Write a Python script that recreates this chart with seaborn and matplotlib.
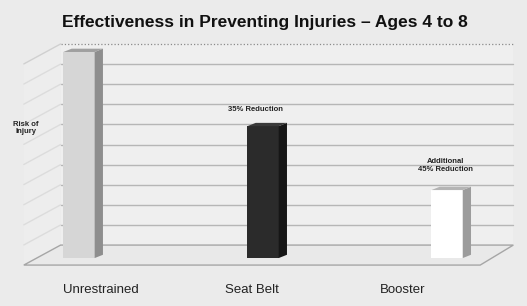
import numpy as np
import pandas as pd
import matplotlib
matplotlib.use("Agg")
import matplotlib.pyplot as plt
from matplotlib.patches import Polygon, Rectangle
import seaborn as sns

# datos del grafico
categories = ["Unrestrained", "Seat Belt", "Booster"]
risk = [100, 64, 33]
notes = ["35% Reduction", "Additional\n45% Reduction"]
front_colors = ["#d6d6d6", "#2b2b2b", "#ffffff"]
side_colors = ["#8e8e8e", "#161616", "#9c9c9c"]
top_colors = ["#a0a0a0", "#3a3a3a", "#b4b4b4"]

df = pd.DataFrame({"grupo": categories, "riesgo": risk})

sns.set_style("white")
plt.rcParams["font.family"] = ["Liberation Sans", "DejaVu Sans"]

bg = "#ebebeb"
fig = plt.figure(figsize=(5.27, 3.06), dpi=100, facecolor=bg)
ax = fig.add_axes([0.019, 0.1176, 0.968, 0.7516])
ax.set_facecolor(bg)

# escenario 3D: pared del fondo, pared izquierda y suelo
y_front, y_back, y_top = -3.4, 6.3, 103.9
x_fl, x_fr, x_bl, x_br = -0.30, 2.18, -0.10, 2.36
dy = y_back - y_front
ax.add_patch(Polygon([(x_bl, y_back), (x_br, y_back), (x_br, y_top), (x_bl, y_top)],
                     closed=True, facecolor="#efefef", edgecolor="none", zorder=0))
ax.add_patch(Polygon([(x_fl, y_front), (x_bl, y_back), (x_bl, y_top), (x_fl, y_top - dy)],
                     closed=True, facecolor="#ededed", edgecolor="none", zorder=0))
grid_vals = np.linspace(y_back, y_top, 11)
for g in grid_vals[1:-1]:
    ax.plot([x_bl, x_br], [g, g], color="#b6b6b6", lw=1.0, zorder=1)
    ax.plot([x_fl, x_bl], [g - dy, g], color="#dcdcdc", lw=1.0, zorder=1)
ax.plot([x_bl, x_br], [y_top, y_top], color="#8a8a8a", lw=0.9, ls=":", zorder=1)
ax.plot([x_fl, x_bl], [y_top - dy, y_top], color="#d0d0d0", lw=1.0, zorder=1)
ax.add_patch(Polygon([(x_fl, y_front), (x_fr, y_front), (x_br, y_back), (x_bl, y_back)],
                     closed=True, facecolor="#e9e9e9", edgecolor="#a6a6a6", lw=1.0, zorder=1))

# barras frontales con seaborn
sns.barplot(data=df, x="grupo", y="riesgo", hue="grupo", palette=front_colors,
            width=0.17, legend=False, ax=ax, saturation=1, zorder=3,
            edgecolor="none")

# caras laterales y superiores
ddx, ddy = 0.045, 1.6
bars = [p for p in ax.patches if isinstance(p, Rectangle) and p.get_height() > 0]
bars = sorted(bars, key=lambda p: p.get_x())
for i, b in enumerate(bars):
    x0, w, h = b.get_x(), b.get_width(), b.get_height()
    x1 = x0 + w
    ax.add_patch(Polygon([(x1, 0), (x1 + ddx, ddy), (x1 + ddx, h + ddy), (x1, h)],
                         closed=True, facecolor=side_colors[i], edgecolor="none", zorder=3))
    ax.add_patch(Polygon([(x0, h), (x1, h), (x1 + ddx, h + ddy), (x0 + ddx, h + ddy)],
                         closed=True, facecolor=top_colors[i], edgecolor="none", zorder=3))

# anotaciones
ax.text(-0.29, 63, "Risk of\nInjury", ha="center", va="center", fontsize=5.5,
        fontweight="bold", color="#222222", linespacing=1.1)
ax.text(1.0 - 0.04, risk[1] + 8, notes[0], ha="center", va="center", fontsize=5.5,
        fontweight="bold", color="#222222")
ax.text(2.0 - 0.01, risk[2] + 12, notes[1], ha="center", va="center", fontsize=5.5,
        fontweight="bold", color="#222222", linespacing=1.1)

ax.set_xlim(-0.375, 2.397)
ax.set_ylim(-5.8, 105.8)
ax.set_xticks([0.82 * i + 0.12 for i in range(len(categories))])
ax.set_xticklabels(categories, fontsize=9.5, color="#222222")
ax.tick_params(axis="x", length=0, pad=10)
ax.set_yticks([])
ax.set_xlabel("")
ax.set_ylabel("")
for s in ax.spines.values():
    s.set_visible(False)

fig.text(0.503, 0.925, "Effectiveness in Preventing Injuries \u2013 Ages 4 to 8",
         ha="center", va="center", fontsize=12.5, fontweight="bold", color="#111111")

fig.savefig("out.png", dpi=100, facecolor=bg)
